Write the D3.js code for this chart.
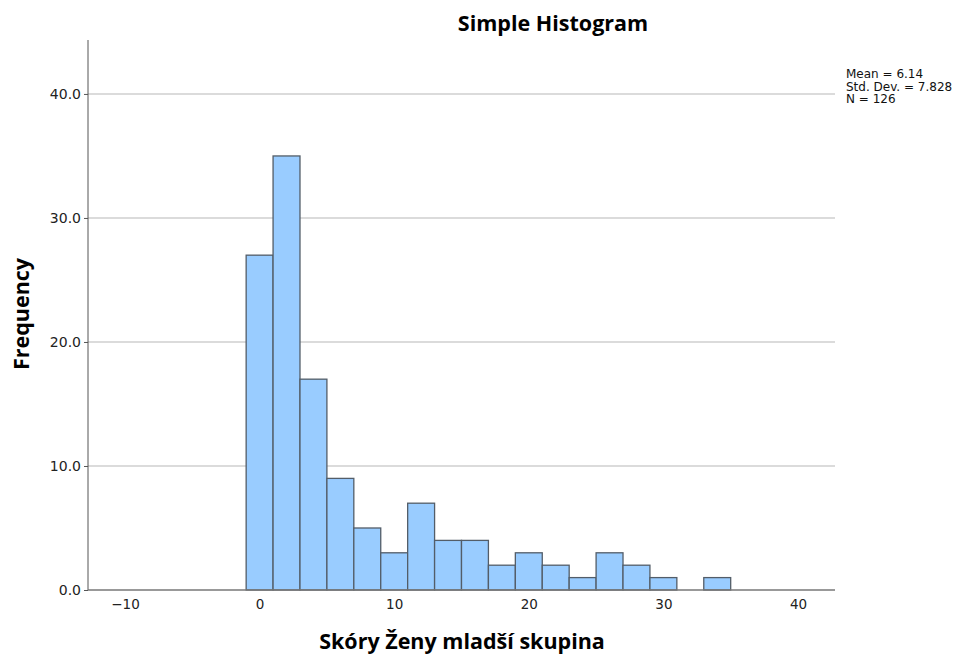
<!DOCTYPE html>
<html>
<head>
<meta charset="utf-8">
<script src="https://cdn.jsdelivr.net/npm/d3@7"></script>
<style>
  body { margin: 0; background: #fff; }
  text { font-family: "DejaVu Sans", sans-serif; }
  .lbl { font-family: "Open Sans", sans-serif; font-weight: bold; }
</style>
</head>
<body>
<svg id="chart" width="972" height="655"></svg>
<script>
// bins are 2 wide, starting at -1
const binStarts = [-1, 1, 3, 5, 7, 9, 11, 13, 15, 17, 19, 21, 23, 25, 27, 29, 31, 33];
const counts = [27, 35, 17, 9, 5, 3, 7, 4, 4, 2, 3, 2, 1, 3, 2, 1, 0, 1];
const binWidth = 2;
const xTicks = [-10, 0, 10, 20, 30, 40];
const yTicks = [0, 10, 20, 30, 40];
const statLines = ['Mean = 6.14', 'Std. Dev. = 7.828', 'N = 126'];

let svg = d3.select('#chart');

let plotLeft = 88, plotRight = 835, plotTop = 40, plotBottom = 590;

let x = d3.scaleLinear().domain([-12.75, 42.75]).range([plotLeft, plotRight]);
let y = d3.scaleLinear().domain([0, 44.35]).range([plotBottom, plotTop]);

// grid lines
svg.append('g')
   .selectAll('line')
   .data(yTicks.filter(d => d > 0))
   .enter()
   .append('line')
   .attr('x1', plotLeft)
   .attr('x2', plotRight)
   .attr('y1', d => y(d))
   .attr('y2', d => y(d))
   .attr('stroke', '#cfcfcf')
   .attr('stroke-width', 1.5);

let bins = binStarts.map((s, i) => ({start: s, count: counts[i]}));

svg.append('g')
   .selectAll('rect')
   .data(bins.filter(d => d.count > 0))
   .enter()
   .append('rect')
   .attr('x', d => x(d.start))
   .attr('width', d => x(d.start + binWidth) - x(d.start))
   .attr('y', d => y(d.count))
   .attr('height', d => y(0) - y(d.count))
   .attr('fill', '#99ccff')
   .attr('stroke', '#535d68')
   .attr('stroke-width', 1.3);

// y axis
let yAxis = d3.axisLeft(y)
              .tickValues(yTicks)
              .tickSize(4)
              .tickFormat(d3.format('.1f'));

let yg = svg.append('g')
            .attr('transform', 'translate(' + plotLeft + ',0)')
            .call(yAxis);
yg.select('.domain').remove();
yg.selectAll('.tick line').attr('stroke', '#555');
yg.selectAll('.tick text').attr('font-size', 14).attr('fill', '#222').attr('x', -7);

svg.append('line')
   .attr('x1', plotLeft).attr('x2', plotLeft)
   .attr('y1', plotTop).attr('y2', plotBottom)
   .attr('stroke', '#555')
   .attr('stroke-width', 1);

// x axis
let xAxis = d3.axisBottom(x)
              .tickValues(xTicks)
              .tickSize(0)
              .tickPadding(9);

let xg = svg.append('g')
            .attr('transform', 'translate(0,' + plotBottom + ')')
            .call(xAxis);
xg.select('.domain').remove();
xg.selectAll('.tick text').attr('font-size', 13.5).attr('fill', '#222');

svg.append('line')
   .attr('x1', plotLeft).attr('x2', plotRight)
   .attr('y1', plotBottom).attr('y2', plotBottom)
   .attr('stroke', '#777')
   .attr('stroke-width', 1.5);

// titles
svg.append('text')
   .attr('class', 'lbl')
   .attr('x', 553)
   .attr('y', 31)
   .attr('text-anchor', 'middle')
   .attr('font-size', 21.5)
   .text('Simple Histogram');

svg.append('text')
   .attr('class', 'lbl')
   .attr('transform', 'translate(29,314) rotate(-90)')
   .attr('text-anchor', 'middle')
   .attr('font-size', 21.5)
   .text('Frequency');

svg.append('text')
   .attr('class', 'lbl')
   .attr('x', 462)
   .attr('y', 649)
   .attr('text-anchor', 'middle')
   .attr('font-size', 21.5)
   .text('Skóry Ženy mladší skupina');

// stats box
svg.append('g')
   .selectAll('text')
   .data(statLines)
   .enter()
   .append('text')
   .attr('x', 846)
   .attr('y', (d, i) => 78 + i * 12.5)
   .attr('font-size', 12)
   .attr('fill', '#111')
   .text(d => d);
</script>
</body>
</html>
